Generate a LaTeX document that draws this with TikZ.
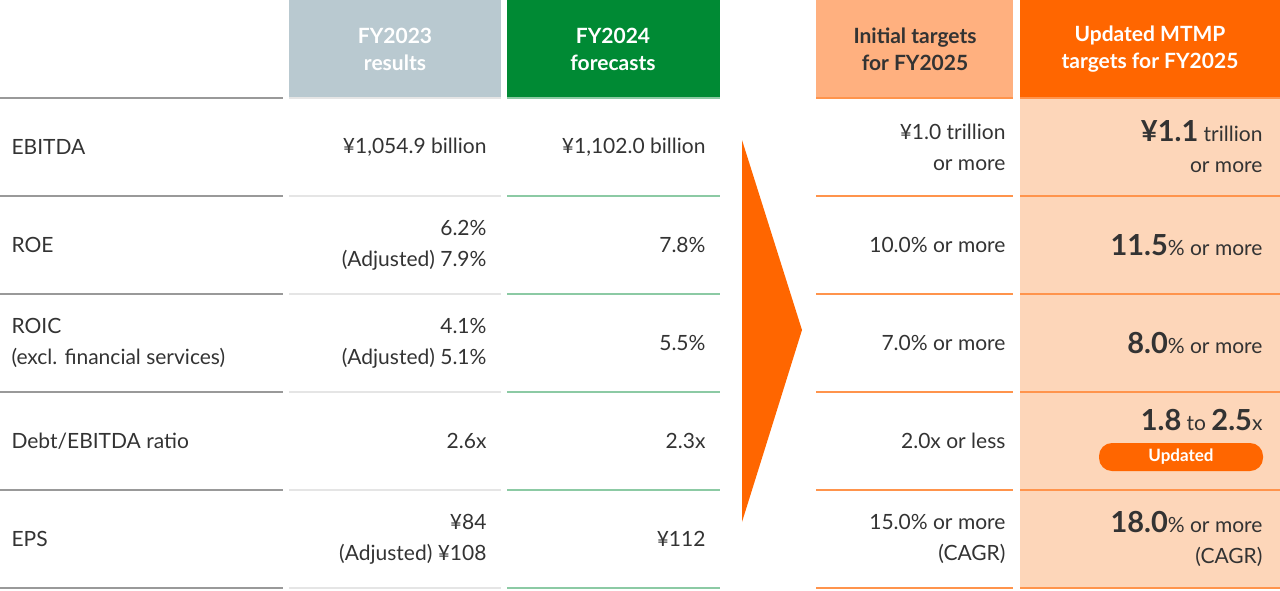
\documentclass[tikz,border=0pt]{standalone}
\usepackage{fontspec}
\setmainfont{Lato}
\definecolor{txt}{HTML}{333333}
\definecolor{gbox}{HTML}{B9C9D0}
\definecolor{grn}{HTML}{008A34}
\definecolor{lor}{HTML}{FFB07F}
\definecolor{orn}{HTML}{FF6600}
\definecolor{pale}{HTML}{FDD6B9}
\begin{document}
\begin{tikzpicture}[x=1pt,y=-1pt,
  hd/.style={font=\fontsize{21}{27}\selectfont\bfseries,align=center},
  cl/.style={font=\fontsize{21}{31}\selectfont,text=txt,align=right,anchor=east},
  lb/.style={font=\fontsize{21}{31}\selectfont,text=txt,align=left,anchor=west},
  big/.style={font=\fontsize{29}{29}\selectfont\bfseries}]
\useasboundingbox (0,0) rectangle (1280,590);
\fill[gbox] (289,0) rectangle (501,97);
\fill[grn] (507,0) rectangle (720,97);
\fill[lor] (816,0) rectangle (1013,97);
\fill[orn] (1020,0) rectangle (1280,97);
\fill[pale] (1020,97) rectangle (1280,588);
\node[hd,text=white] (h1) at (395,49) {FY2023\\results};
\node[hd,text=white] (h2) at (613,49) {FY2024\\forecasts};
\node[hd,text=txt] (h3) at (915,49) {Initial targets\\for FY2025};
\node[hd,text=white] (h4) at (1150,49) {Updated MTMP\\targets for FY2025};
\foreach \y in {98,196,294,392,490,588}{
  \draw[line width=1.5pt,gray!80] (0,\y) -- (283,\y);
  \draw[line width=1.5pt,gray!20] (289,\y) -- (501,\y);
  \draw[line width=1.5pt,grn!45] (507,\y) -- (720,\y);
  \draw[line width=1.5pt,orn!70] (816,\y) -- (1013,\y);
  \draw[line width=1.5pt,orn!70] (1020,\y) -- (1280,\y);
}
\fill[orn] (742,140) -- (802,330) -- (742,522) -- cycle;
% labels
\node[lb] (l1) at (8,147) {EBITDA};
\node[lb] (l2) at (8,245) {ROE};
\node[lb] (l3) at (8,343) {ROIC\\(excl. financial services)};
\node[lb] (l4) at (8,441) {Debt/EBITDA ratio};
\node[lb] (l5) at (8,539) {EPS};
% FY2023
\node[cl] (a1) at (490,147) {¥1,054.9 billion};
\node[cl] (a2) at (490,245) {6.2\%\\(Adjusted) 7.9\%};
\node[cl] (a3) at (490,343) {4.1\%\\(Adjusted) 5.1\%};
\node[cl] (a4) at (490,441) {2.6x};
\node[cl] (a5) at (490,539) {¥84\\(Adjusted) ¥108};
% FY2024
\node[cl] (b1) at (709,147) {¥1,102.0 billion};
\node[cl] (b2) at (709,245) {7.8\%};
\node[cl] (b3) at (709,343) {5.5\%};
\node[cl] (b4) at (709,441) {2.3x};
\node[cl] (b5) at (709,539) {¥112};
% initial
\node[cl] (c1) at (1009,147) {¥1.0 trillion\\or more};
\node[cl] (c2) at (1009,245) {10.0\% or more};
\node[cl] (c3) at (1009,343) {7.0\% or more};
\node[cl] (c4) at (1009,441) {2.0x or less};
\node[cl] (c5) at (1009,539) {15.0\% or more\\(CAGR)};
% updated
\node[cl] (d1) at (1266,147) {{\fontsize{29}{29}\selectfont\bfseries ¥1.1} trillion\\or more};
\node[cl] (d2) at (1266,245) {{\fontsize{29}{29}\selectfont\bfseries 11.5}\% or more};
\node[cl] (d3) at (1266,343) {{\fontsize{29}{29}\selectfont\bfseries 8.0}\% or more};
\node[cl] (d4) at (1266,420) {{\fontsize{29}{29}\selectfont\bfseries 1.8} to {\fontsize{29}{29}\selectfont\bfseries 2.5}x};
\node[fill=orn,rounded corners=13pt,minimum width=164pt,minimum height=28pt,inner sep=0pt,text=white,font=\fontsize{17}{17}\selectfont\bfseries] (up) at (1181,457) {Updated};
\node[cl] (d5) at (1266,539) {{\fontsize{29}{29}\selectfont\bfseries 18.0}\% or more\\(CAGR)};
\end{tikzpicture}
\end{document}
